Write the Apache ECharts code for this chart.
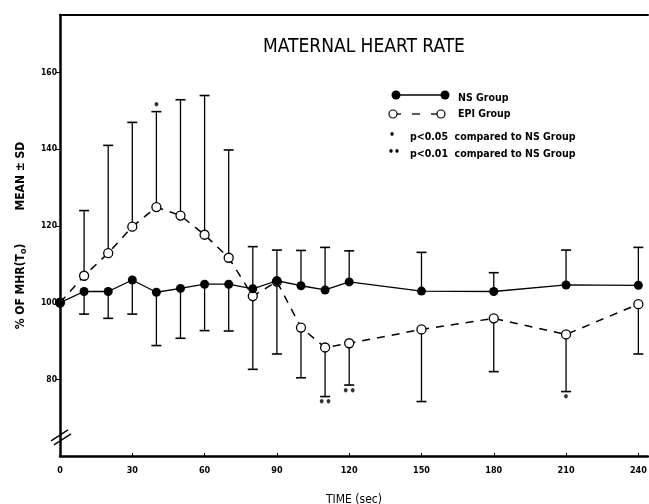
<!DOCTYPE html>
<html><head><meta charset="utf-8">
<script src="https://cdn.jsdelivr.net/npm/echarts@6/dist/echarts.min.js"></script>
<style>html,body{margin:0;padding:0;background:#fff}#c{width:649px;height:504px}</style>
</head><body><div id="c"></div>
<script>
const times = [0,10,20,30,40,50,60,70,80,90,100,110,120,150,180,210,240];
const nsMean = [100,102.9,102.9,105.9,102.7,103.7,104.8,104.8,103.6,105.7,104.4,103.3,105.4,103.0,102.9,104.6,104.5];
const nsBarEnd = [null,97.0,95.9,97.0,88.8,90.7,92.7,92.6,114.6,113.7,113.6,114.4,113.5,113.1,107.8,113.7,114.4];
const epiMean = [100,107.0,112.9,119.8,124.9,122.7,117.7,111.7,101.7,105.5,93.5,88.3,89.4,93.0,95.9,91.7,99.6];
const epiBarEnd = [null,124.0,141.0,147.0,149.8,152.9,154.0,139.8,82.6,86.6,80.4,75.5,78.5,74.2,82.0,76.8,86.6];
const sigTimes = [40,110,120,210];
const sigValues = [151.4,73.8,76.8,75.2];
const sigMarks = ['•','••','••','•'];
const xTicks = [0,30,60,90,120,150,180,210,240];
const yTicks = [80,100,120,140,160];

const FONT = '"DejaVu Sans Condensed", "DejaVu Sans", sans-serif';
const chart = echarts.init(document.getElementById('c'), null, {renderer:'canvas'});

function errRender(params, api){
  const x = api.value(0), m = api.value(1), e = api.value(2);
  const p0 = api.coord([x,m]), p1 = api.coord([x,e]);
  return {type:'group', children:[
    {type:'line', shape:{x1:p0[0],y1:p0[1],x2:p1[0],y2:p1[1]}, style:{stroke:'#000',lineWidth:1.3}},
    {type:'line', shape:{x1:p1[0]-5,y1:p1[1],x2:p1[0]+5,y2:p1[1]}, style:{stroke:'#000',lineWidth:1.6}}
  ]};
}
const nsErr = times.map((t,i)=>[t,nsMean[i],nsBarEnd[i]]).filter(d=>d[2]!=null);
const epiErr = times.map((t,i)=>[t,epiMean[i],epiBarEnd[i]]).filter(d=>d[2]!=null);

const option = {
  animation:false,
  backgroundColor:'#fff',
  title:{text:'MATERNAL HEART RATE', left:359, top:33, textAlign:'center',
    textStyle:{fontFamily:'"DejaVu Sans Condensed", sans-serif', fontWeight:'normal', fontSize:19, color:'#000'}},
  grid:{left:60, right:1, top:15, bottom:48, outerBoundsMode:'none', containLabel:false},
  xAxis:[{
    type:'value', min:0, max:244, position:'bottom',
    name:'TIME (sec)', nameLocation:'middle', nameGap:38,
    nameTextStyle:{fontFamily:FONT, fontSize:12, color:'#000'},
    axisLine:{show:true, onZero:false, lineStyle:{color:'#000', width:2.5}},
    axisTick:{show:true, inside:true, length:3, customValues:xTicks, lineStyle:{color:'#000'}},
    axisLabel:{customValues:xTicks, fontFamily:FONT, fontWeight:'bold', fontSize:9, color:'#000', margin:10},
    splitLine:{show:false}
  },{
    type:'value', min:0, max:244, position:'top',
    axisLine:{show:true, onZero:false, lineStyle:{color:'#000', width:2}},
    axisTick:{show:false}, axisLabel:{show:false}, splitLine:{show:false}
  }],
  yAxis:{
    type:'value', min:60, max:175,
    name:'{a|% OF MHR(T}{s|o}{a|)}{g|}{a|MEAN ± SD}', nameLocation:'middle', nameRotate:90, nameGap:32,
    nameTextStyle:{rich:{
      a:{fontFamily:FONT, fontWeight:'bold', fontSize:12, color:'#000'},
      s:{fontFamily:FONT, fontWeight:'bold', fontSize:9, color:'#000', verticalAlign:'bottom', padding:[6,0,0,0]},
      g:{width:33}
    }},
    axisLine:{show:true, onZero:false, lineStyle:{color:'#000', width:2.5}},
    axisTick:{show:true, inside:false, length:4, customValues:yTicks, lineStyle:{color:'#000'}},
    axisLabel:{customValues:yTicks, fontFamily:FONT, fontWeight:'bold', fontSize:8.5, color:'#000', margin:3},
    splitLine:{show:false}
  },
  series:[
    {type:'custom', renderItem:errRender, data:nsErr, z:1, silent:true},
    {type:'custom', renderItem:errRender, data:epiErr, z:1, silent:true},
    {type:'line', name:'EPI Group', data:times.map((t,i)=>[t,epiMean[i]]), z:3,
      symbol:'circle', symbolSize:9, showAllSymbol:true,
      lineStyle:{color:'#000', width:1.5, type:[8,7]},
      itemStyle:{color:'#fff', borderColor:'#000', borderWidth:1.3}},
    {type:'line', name:'NS Group', data:times.map((t,i)=>[t,nsMean[i]]), z:4,
      symbol:'circle', symbolSize:9, showAllSymbol:true,
      lineStyle:{color:'#000', width:1.3},
      itemStyle:{color:'#000'}},
    {type:'scatter', name:'significance', data:sigTimes.map((t,i)=>[t,sigValues[i],sigMarks[i]]), symbolSize:0, z:5,
      label:{show:true, position:'inside', formatter:p=>p.data[2], fontSize:12, fontWeight:'bold', color:'#000', fontFamily:FONT}}
  ]
};
chart.setOption(option);

// axis break mark and legend
const px = chart.convertToPixel({xAxisIndex:0}, 0);
const py = chart.convertToPixel({yAxisIndex:0}, 65.5);
const lg = {fontFamily:FONT, fontWeight:'bold', fontSize:10.5, fill:'#000'};
chart.setOption({graphic:[
  {type:'line', shape:{x1:px-9,y1:py+6,x2:px+8,y2:py-5}, style:{stroke:'#000',lineWidth:1.3}},
  {type:'line', shape:{x1:px-6,y1:py+10,x2:px+11,y2:py-1}, style:{stroke:'#000',lineWidth:1.3}},
  // NS legend
  {type:'line', shape:{x1:396,y1:95,x2:445,y2:95}, style:{stroke:'#000',lineWidth:1.3}},
  {type:'circle', shape:{cx:396,cy:95,r:4.5}, style:{fill:'#000'}},
  {type:'circle', shape:{cx:445,cy:95,r:4.5}, style:{fill:'#000'}},
  {type:'text', x:458, y:98, style:Object.assign({text:'NS Group', verticalAlign:'middle'}, lg)},
  // EPI legend
  {type:'circle', shape:{cx:393,cy:114,r:4}, style:{fill:'#fff',stroke:'#000',lineWidth:1.2}},
  {type:'line', shape:{x1:397,y1:114,x2:401,y2:114}, style:{stroke:'#000',lineWidth:1.3}},
  {type:'line', shape:{x1:412,y1:114,x2:420,y2:114}, style:{stroke:'#000',lineWidth:1.3}},
  {type:'line', shape:{x1:431,y1:114,x2:437,y2:114}, style:{stroke:'#000',lineWidth:1.3}},
  {type:'circle', shape:{cx:441,cy:114,r:4}, style:{fill:'#fff',stroke:'#000',lineWidth:1.2}},
  {type:'text', x:458, y:114, style:Object.assign({text:'EPI Group', verticalAlign:'middle'}, lg)},
  {type:'text', x:389, y:135, style:Object.assign({text:'•', verticalAlign:'middle'}, lg)},
  {type:'text', x:410, y:137, style:Object.assign({text:'p<0.05  compared to NS Group', verticalAlign:'middle'}, lg)},
  {type:'text', x:388, y:152, style:Object.assign({text:'••', verticalAlign:'middle'}, lg)},
  {type:'text', x:410, y:154, style:Object.assign({text:'p<0.01  compared to NS Group', verticalAlign:'middle'}, lg)}
]});
</script>
</body></html>
